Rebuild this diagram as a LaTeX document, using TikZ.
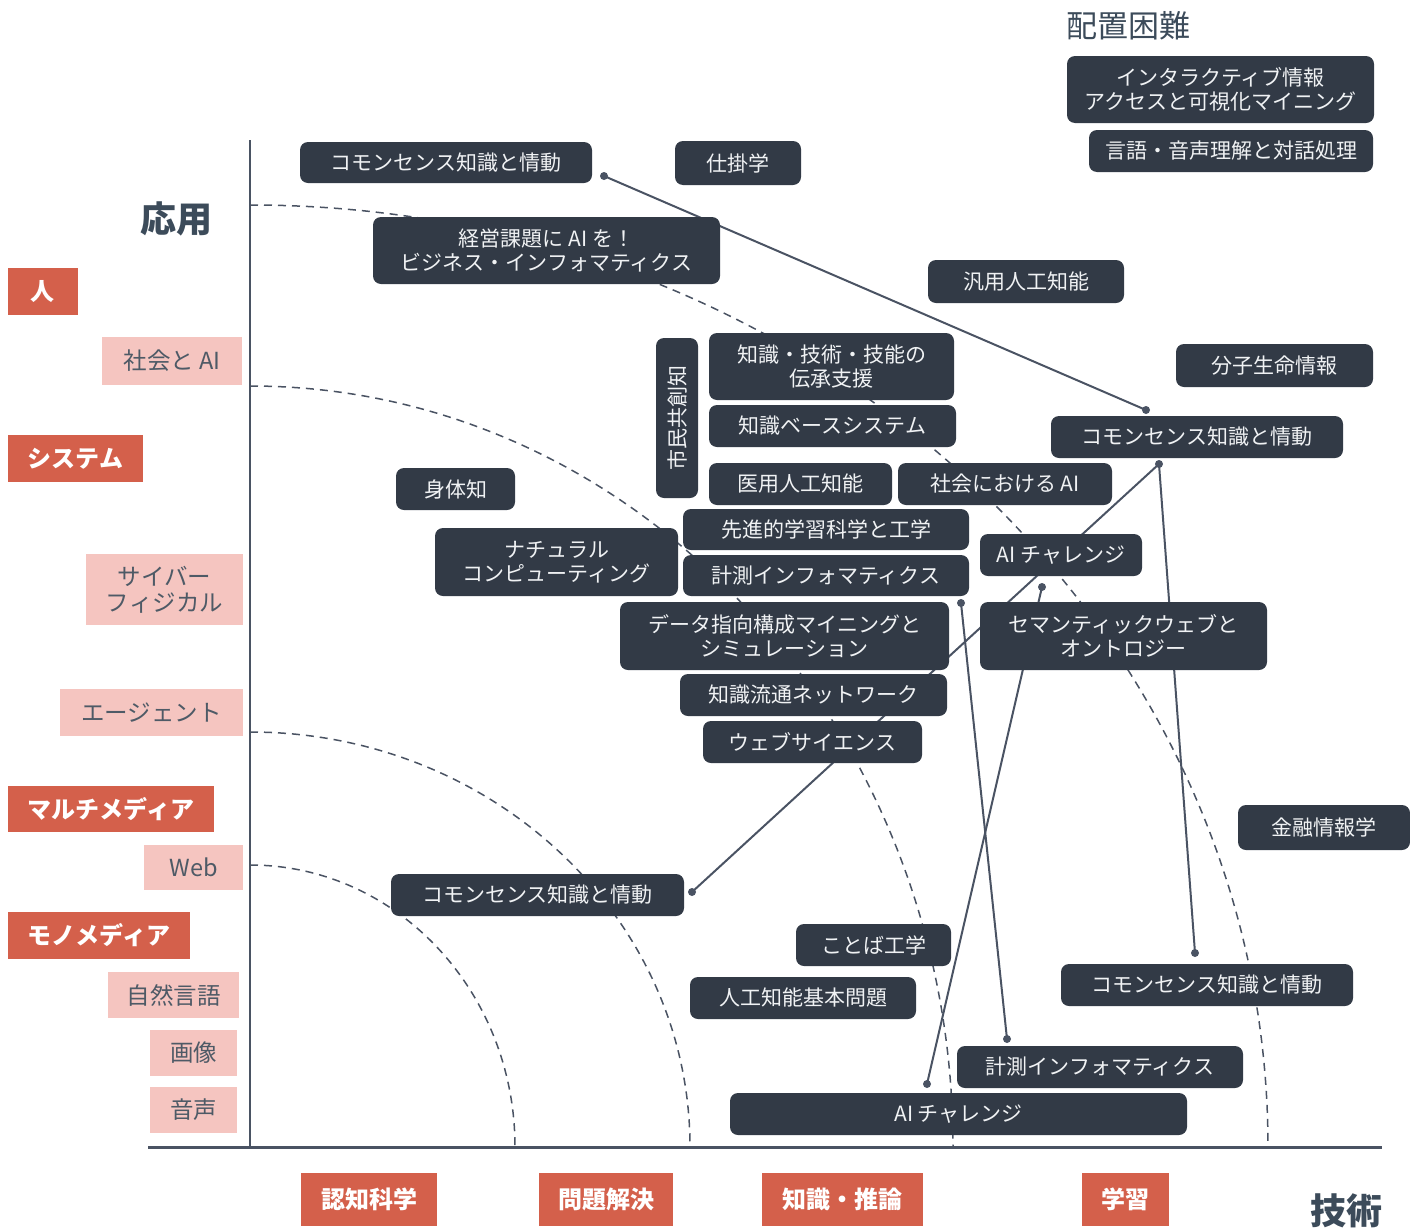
\documentclass[tikz,border=0pt]{standalone}
\usepackage{fontspec}
\setmainfont{Noto Sans CJK JP}
\definecolor{nodefill}{HTML}{323A46}
\definecolor{nodetext}{HTML}{F0F2F4}
\definecolor{catred}{HTML}{D4604B}
\definecolor{catpink}{HTML}{F5C5C0}
\definecolor{subtext}{HTML}{4E5A66}
\definecolor{axis}{HTML}{4A5363}
\definecolor{titletext}{HTML}{3C4B5A}
\begin{document}
\begin{tikzpicture}[x=0.5pt,y=0.5pt,
  sz/.style 2 args={minimum width=#1*0.5pt, minimum height=#2*0.5pt},
  dk/.style={rectangle, rounded corners=4pt, fill=nodefill, text=nodetext,
    font=\fontsize{10.5}{12}\selectfont, align=center, inner sep=0pt},
  cat/.style={rectangle, fill=catred, text=white,
    font=\bfseries\fontsize{12}{14}\selectfont, align=center, inner sep=0pt},
  sub/.style={rectangle, fill=catpink, text=subtext,
    font=\fontsize{11.75}{13}\selectfont, align=center, inner sep=0pt},
  ring/.style={draw=axis, line width=0.75pt, dash pattern=on 4pt off 3pt},
  link/.style={draw=axis, line width=1pt},
  dot/.style={fill=axis},
  title/.style={text=titletext, font=\bfseries\fontsize{18}{20}\selectfont, inner sep=0pt}
]
\useasboundingbox (0,0) rectangle (1410,-1232);

% concentric dashed rings around the origin
\draw[ring] (250,-865) arc[start angle=90, end angle=0, x radius=132.5pt, y radius=141pt];
\draw[ring] (250,-732) arc[start angle=90, end angle=0, x radius=220pt, y radius=207.5pt];
\draw[ring] (250,-386) arc[start angle=90, end angle=0, x radius=351.5pt, y radius=380.5pt];
\draw[ring] (250,-205) arc[start angle=90, end angle=0, x radius=509pt, y radius=471pt];

% axes
\coordinate (ytop) at (250,-140);
\coordinate (orig) at (250,-1147);
\coordinate (xleft) at (148,-1147);
\coordinate (xright) at (1382,-1147);
\draw[axis, line width=1.2pt] (ytop) -- (orig);
\draw[axis, line width=1.5pt] (xleft) -- (xright);

% connector end points
\coordinate (c1a) at (604,-176);
\coordinate (c1b) at (1146,-410);
\coordinate (c2a) at (1159,-464);
\coordinate (c2b) at (692,-892);
\coordinate (c3b) at (1195,-953);
\coordinate (c4a) at (1042,-587);
\coordinate (c4b) at (927,-1084);
\coordinate (c5a) at (961,-603);
\coordinate (c5b) at (1007,-1039);

\draw[link] (c1a) -- (c1b);
\draw[link] (c2a) -- (c2b);
\draw[link] (c2a) -- (c3b);
\draw[link] (c4a) -- (c4b);
\draw[link] (c5a) -- (c5b);
\foreach \p in {c1a,c1b,c2a,c2b,c3b,c4a,c4b,c5a,c5b}
  \fill[dot] (\p) circle[radius=2pt];

% topic boxes
\node[dk, sz={292}{41}] (n1) at (446,-162.5) {コモンセンス知識と情動};
\node[dk, sz={126}{44}] (n2) at (738,-163) {仕掛学};
\node[dk, sz={347}{67}] (n3) at (546.5,-250.5) {経営課題に AI を！\\ビジネス・インフォマティクス};
\node[dk, sz={196}{43}] (n4) at (1026,-281.5) {汎用人工知能};
\node[dk, sz={245}{67}] (n5) at (831.5,-366.5) {知識・技術・技能の\\伝承支援};
\node[dk, sz={160}{42}, rotate=90] (n6) at (677,-418) {市民共創知};
\node[dk, sz={247}{42}] (n7) at (832.5,-426) {知識ベースシステム};
\node[dk, sz={197}{43}] (n8) at (1274.5,-365.5) {分子生命情報};
\node[dk, sz={292}{42}] (n9) at (1197,-437) {コモンセンス知識と情動};
\node[dk, sz={119}{42}] (n10) at (455.5,-489) {身体知};
\node[dk, sz={183}{42}] (n11) at (800.5,-484) {医用人工知能};
\node[dk, sz={214}{42}] (n12) at (1005,-484) {社会における AI};
\node[dk, sz={286}{41}] (n13) at (826,-529.5) {先進的学習科学と工学};
\node[dk, sz={243}{68}] (n14) at (556.5,-562) {ナチュラル\\コンピューティング};
\node[dk, sz={162}{42}] (n15) at (1061,-555) {AI チャレンジ};
\node[dk, sz={286}{41}] (n16) at (826,-575.5) {計測インフォマティクス};
\node[dk, sz={329}{68}] (n17) at (784.5,-636) {データ指向構成マイニングと\\シミュレーション};
\node[dk, sz={287}{68}] (n18) at (1123.5,-636) {セマンティックウェブと\\オントロジー};
\node[dk, sz={267}{42}] (n19) at (813.5,-695) {知識流通ネットワーク};
\node[dk, sz={219}{42}] (n20) at (812.5,-742) {ウェブサイエンス};
\node[dk, sz={172}{45}] (n21) at (1324,-827.5) {金融情報学};
\node[dk, sz={293}{42}] (n22) at (537.5,-895) {コモンセンス知識と情動};
\node[dk, sz={155}{42}] (n23) at (873.5,-945) {ことば工学};
\node[dk, sz={226}{42}] (n24) at (803,-998) {人工知能基本問題};
\node[dk, sz={292}{42}] (n25) at (1207,-985) {コモンセンス知識と情動};
\node[dk, sz={286}{42}] (n26) at (1100,-1067) {計測インフォマティクス};
\node[dk, sz={457}{42}] (n27) at (958.5,-1114) {AI チャレンジ};
\node[dk, sz={307}{67}] (n28) at (1220.5,-89.5) {インタラクティブ情報\\アクセスと可視化マイニング};
\node[dk, sz={284}{42}] (n29) at (1231,-151) {言語・音声理解と対話処理};

% heading for the unplaced topics
\node[text=titletext, font=\fontsize{15.5}{17}\selectfont, inner sep=0pt] (hard) at (1128,-26) {配置困難};

% axis titles
\node[title] (app) at (176,-219) {応用};
\node[title] (tech) at (1346,-1211) {技術};

% application categories
\node[cat, sz={70}{47}] (a1) at (43,-291.5) {人};
\node[sub, sz={140}{48}] (a2) at (172,-361) {社会と AI};
\node[cat, sz={135}{47}] (a3) at (75.5,-458.5) {システム};
\node[sub, sz={157}{71}] (a4) at (164.5,-589.5) {サイバー\\フィジカル};
\node[sub, sz={183}{47}] (a5) at (151.5,-712.5) {エージェント};
\node[cat, sz={206}{46}] (a6) at (111,-809) {マルチメディア};
\node[sub, sz={99}{45}] (a7) at (193.5,-867.5) {Web};
\node[cat, sz={182}{47}] (a8) at (99,-935.5) {モノメディア};
\node[sub, sz={131}{46}] (a9) at (173.5,-995) {自然言語};
\node[sub, sz={87}{46}] (a10) at (193.5,-1053) {画像};
\node[sub, sz={87}{46}] (a11) at (193.5,-1110) {音声};

% technology categories
\node[cat, sz={136}{53}] (t1) at (369,-1199.5) {認知科学};
\node[cat, sz={134}{53}] (t2) at (606,-1199.5) {問題解決};
\node[cat, sz={161}{53}] (t3) at (842.5,-1199.5) {知識・推論};
\node[cat, sz={87}{53}] (t4) at (1125.5,-1199.5) {学習};
\end{tikzpicture}
\end{document}
